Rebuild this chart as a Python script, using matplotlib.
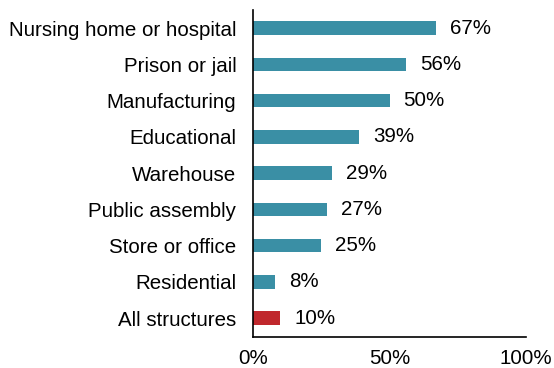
import matplotlib
matplotlib.use("Agg")
import matplotlib.pyplot as plt

plt.rcParams['font.family'] = ['Liberation Sans', 'DejaVu Sans']

# data
categories = ["Nursing home or hospital", "Prison or jail", "Manufacturing",
              "Educational", "Warehouse", "Public assembly", "Store or office",
              "Residential", "All structures"]
values = [67, 56, 50, 39, 29, 27, 25, 8, 10]
colors = ["#3a8fa5"] * 8 + ["#c0282d"]
xticks = [0, 50, 100]

fs = 14.8

fig = plt.figure(figsize=(5.54, 3.68), dpi=100)
ax = fig.add_axes([0.4567, 0.0842, 0.4928, 0.8886])

pos = list(range(len(categories)))
ax.barh(pos, values, height=0.37, color=colors)
for p, v in zip(pos, values):
    ax.annotate(f"{v}%", (v, p), xytext=(10, 0), textcoords="offset points",
                va="center", ha="left", fontsize=fs)

ax.set_ylim(len(categories) - 0.48, -0.5)
ax.set_xlim(0, 100)
ax.set_yticks(pos)
ax.set_yticklabels(categories, fontsize=fs)
ax.set_xticks(xticks)
ax.set_xticklabels([f"{t}%" for t in xticks], fontsize=fs)
ax.tick_params(axis="y", length=0, pad=12)
ax.tick_params(axis="x", length=0, pad=8.5)
for s in ["top", "right"]:
    ax.spines[s].set_visible(False)
for s in ["left", "bottom"]:
    ax.spines[s].set_linewidth(1.2)

fig.savefig("out.png", dpi=100)
